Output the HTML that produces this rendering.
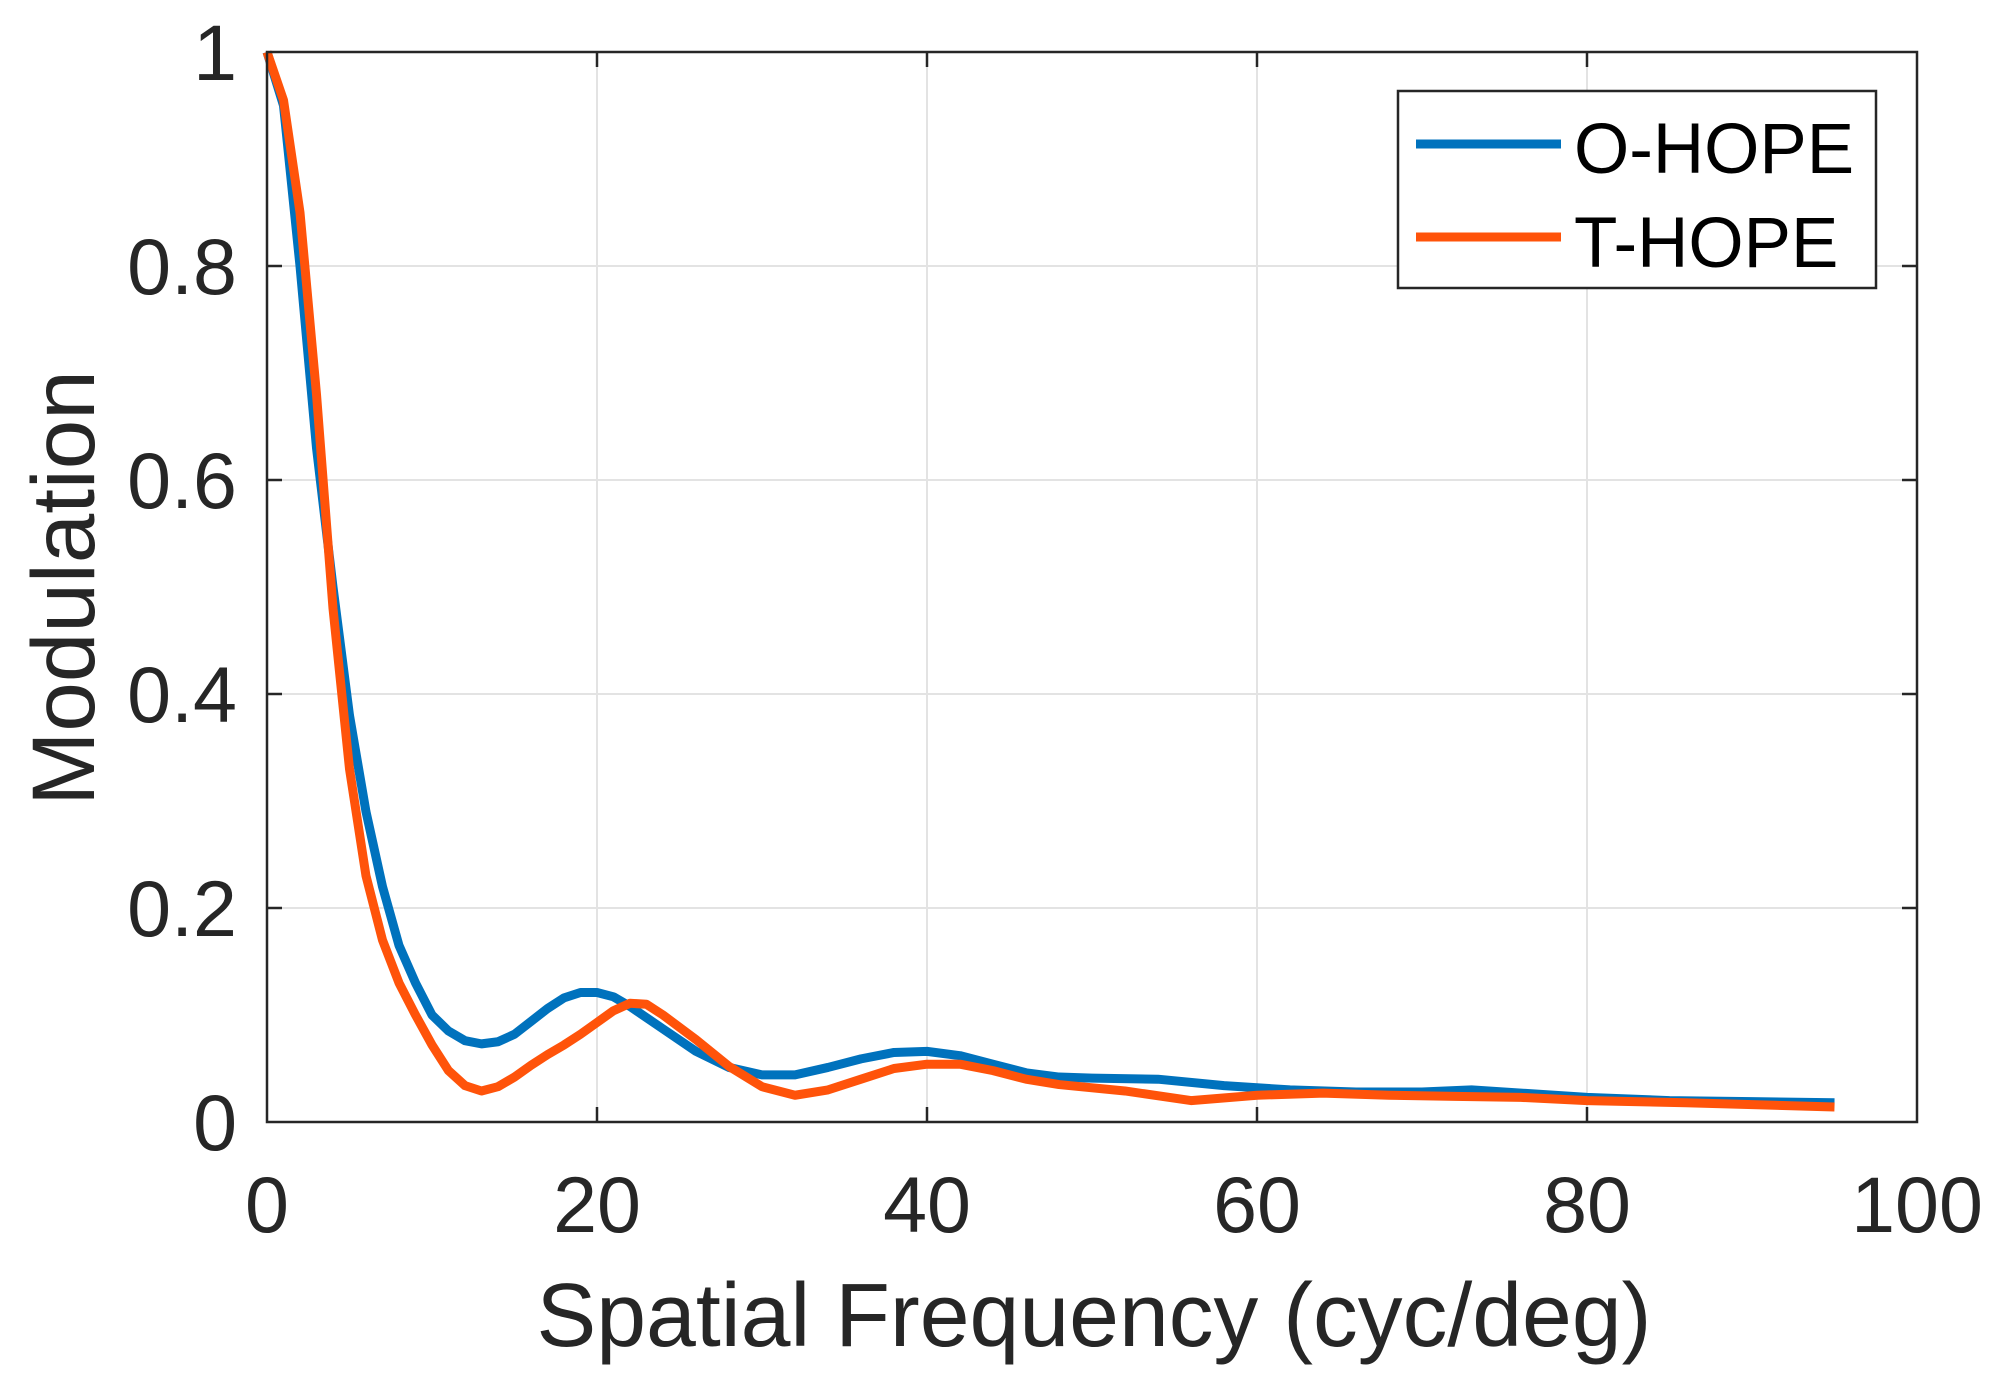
<!DOCTYPE html>
<html><head><meta charset="utf-8"><style>
html,body{margin:0;padding:0;background:#fff;}
svg{display:block;font-family:"Liberation Sans",Arial,sans-serif;}
</style></head><body>
<svg width="2006" height="1400" viewBox="0 0 2006 1400" xmlns="http://www.w3.org/2000/svg">
<rect width="2006" height="1400" fill="#fff"/>
<g stroke="#e3e3e3" stroke-width="2">
<line x1="597" y1="52" x2="597" y2="1122"/>
<line x1="927" y1="52" x2="927" y2="1122"/>
<line x1="1257" y1="52" x2="1257" y2="1122"/>
<line x1="1587" y1="52" x2="1587" y2="1122"/>
<line x1="267" y1="908" x2="1917" y2="908"/>
<line x1="267" y1="694" x2="1917" y2="694"/>
<line x1="267" y1="480" x2="1917" y2="480"/>
<line x1="267" y1="266" x2="1917" y2="266"/>
</g>
<g stroke="#262626" stroke-width="2.5">
<line x1="597" y1="1122" x2="597" y2="1107"/><line x1="597" y1="52" x2="597" y2="67"/>
<line x1="927" y1="1122" x2="927" y2="1107"/><line x1="927" y1="52" x2="927" y2="67"/>
<line x1="1257" y1="1122" x2="1257" y2="1107"/><line x1="1257" y1="52" x2="1257" y2="67"/>
<line x1="1587" y1="1122" x2="1587" y2="1107"/><line x1="1587" y1="52" x2="1587" y2="67"/>
<line x1="267" y1="908" x2="282" y2="908"/><line x1="1917" y1="908" x2="1902" y2="908"/>
<line x1="267" y1="694" x2="282" y2="694"/><line x1="1917" y1="694" x2="1902" y2="694"/>
<line x1="267" y1="480" x2="282" y2="480"/><line x1="1917" y1="480" x2="1902" y2="480"/>
<line x1="267" y1="266" x2="282" y2="266"/><line x1="1917" y1="266" x2="1902" y2="266"/>
</g>
<g transform="translate(267,1122) scale(16.5,-1070)" fill="none" stroke-linejoin="round" stroke-linecap="butt">
<polyline vector-effect="non-scaling-stroke" stroke="#0072BD" stroke-width="9" points="0,1 1,0.95 2,0.8 3,0.63 4,0.5 5,0.38 6,0.29 7,0.22 8,0.165 9,0.13 10,0.1 11,0.085 12,0.076 13,0.073 14,0.075 15,0.082 16,0.094 17,0.106 18,0.116 19,0.121 20,0.121 21,0.117 22,0.108 24,0.087 26,0.066 28,0.051 30,0.044 32,0.044 34,0.051 36,0.059 38,0.065 40,0.066 42,0.062 44,0.054 46,0.046 48,0.042 50,0.041 54,0.04 58,0.034 62,0.03 66,0.028 70,0.028 73,0.03 76,0.027 80,0.023 85,0.02 90,0.019 95,0.018"/>
<polyline vector-effect="non-scaling-stroke" stroke="#FF530A" stroke-width="9" points="0,1 1,0.955 2,0.85 3,0.68 4,0.48 5,0.33 6,0.23 7,0.17 8,0.13 9,0.1 10,0.072 11,0.048 12,0.034 13,0.029 14,0.033 15,0.042 16,0.053 17,0.063 18,0.072 19,0.082 20,0.093 21,0.104 22,0.111 23,0.11 24,0.1 26,0.077 28,0.052 30,0.033 32,0.025 34,0.03 36,0.04 38,0.05 40,0.054 42,0.054 44,0.048 46,0.04 48,0.035 52,0.029 56,0.02 60,0.025 64,0.027 68,0.025 72,0.024 76,0.023 80,0.02 86,0.018 95,0.014"/>
</g>
<rect x="267" y="52" width="1650" height="1070" fill="none" stroke="#262626" stroke-width="2.5"/>
<g fill="#262626" font-size="79">
<text x="267" y="1232" text-anchor="middle">0</text>
<text x="597" y="1232" text-anchor="middle">20</text>
<text x="927" y="1232" text-anchor="middle">40</text>
<text x="1257" y="1232" text-anchor="middle">60</text>
<text x="1587" y="1232" text-anchor="middle">80</text>
<text x="1917" y="1232" text-anchor="middle">100</text>
<text x="237" y="1150" text-anchor="end">0</text>
<text x="237" y="936" text-anchor="end">0.2</text>
<text x="237" y="722" text-anchor="end">0.4</text>
<text x="237" y="508" text-anchor="end">0.6</text>
<text x="237" y="294" text-anchor="end">0.8</text>
<text x="237" y="80" text-anchor="end">1</text>
</g>
<text x="1094" y="1346" text-anchor="middle" font-size="90" fill="#262626" textLength="1115" lengthAdjust="spacingAndGlyphs">Spatial Frequency (cyc/deg)</text>
<text transform="translate(94,588) rotate(-90)" text-anchor="middle" font-size="89" fill="#262626">Modulation</text>
<rect x="1398" y="91" width="478" height="197" fill="#fff" stroke="#262626" stroke-width="2.5"/>
<line x1="1416" y1="144" x2="1561" y2="144" stroke="#0072BD" stroke-width="9"/>
<line x1="1416" y1="237" x2="1561" y2="237" stroke="#FF530A" stroke-width="9"/>
<text x="1574" y="173" font-size="71" fill="#000">O-HOPE</text>
<text x="1574" y="267" font-size="71" fill="#000">T-HOPE</text>
</svg>
</body></html>
